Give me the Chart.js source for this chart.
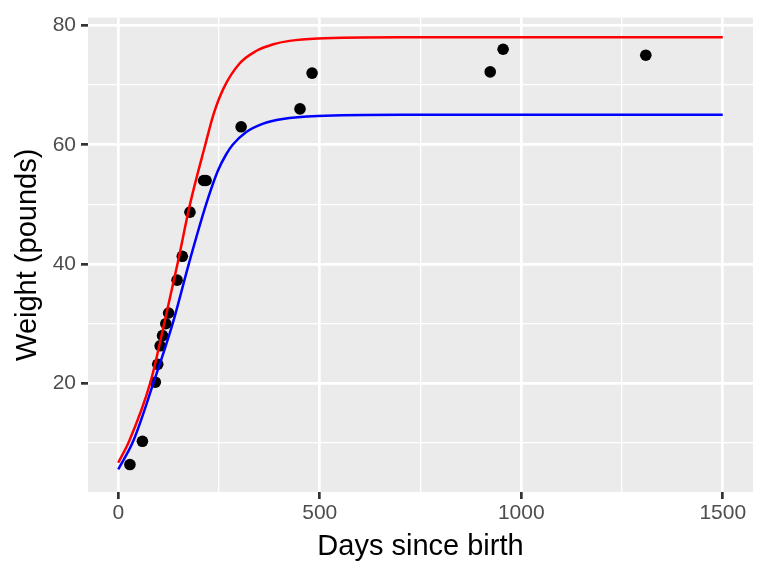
<!DOCTYPE html>
<html>
<head>
<meta charset="utf-8">
<script src="https://cdn.jsdelivr.net/npm/chart.js@4"></script>
<style>
  html, body { margin: 0; padding: 0; background: #fff; }
  #wrap { width: 768px; height: 576px; }
</style>
</head>
<body>
<div id="wrap"><canvas id="growthChart" width="768" height="576"></canvas></div>
<script>
// observed weights
const pointDays = [29, 60, 92, 98, 104, 110, 118, 125, 146, 159, 178, 212, 218, 305, 451, 481, 923, 955, 1309];
const pointWeights = [6.4, 10.3, 20.2, 23.2, 26.3, 28, 30, 31.8, 37.3, 41.3, 48.7, 54, 54, 63, 66, 72, 72.2, 76, 75];

// fitted curves
const redDays = [0, 27, 80, 114, 147, 178, 216, 237, 261, 301, 342, 383, 425, 495, 700, 1000, 1500];
const redWeights = [6.7, 10.3, 20.2, 30, 40, 50, 60, 65.2, 69.4, 73.6, 75.7, 76.8, 77.4, 77.8, 78, 78, 78];
const blueDays = [0, 37, 88, 135, 175, 218, 247, 268, 284, 317, 358, 408, 495, 700, 1000, 1500];
const blueWeights = [5.6, 10.3, 20.2, 30, 40, 50, 55.6, 58.4, 60, 62.1, 63.5, 64.3, 64.8, 65, 65, 65];

// axis ticks
const xTicks = [0, 250, 500, 750, 1000, 1250, 1500];
const xLabels = [0, 500, 1000, 1500];
const yTicks = [10, 20, 30, 40, 50, 60, 70, 80];
const yLabels = [20, 40, 60, 80];

const toXY = (xs, ys) => xs.map((x, i) => ({ x: x, y: ys[i] }));

const panelBg = {
  id: 'panelBg',
  beforeDraw(chart) {
    const a = chart.chartArea, c = chart.ctx;
    c.save();
    c.fillStyle = '#ebebeb';
    c.fillRect(a.left, a.top, a.right - a.left, a.bottom - a.top);
    c.restore();
  }
};

const isMajor = (list) => (ctx) => ctx.tick && list.includes(ctx.tick.value);
const fontFam = 'Liberation Sans, Arial, sans-serif';

new Chart(document.getElementById('growthChart'), {
  type: 'scatter',
  data: {
    datasets: [
      { type: 'line', data: toXY(redDays, redWeights), borderColor: '#ff0000', borderWidth: 2.5,
        pointRadius: 0, cubicInterpolationMode: 'monotone', fill: false, order: 0 },
      { type: 'line', data: toXY(blueDays, blueWeights), borderColor: '#0000ff', borderWidth: 2.5,
        pointRadius: 0, cubicInterpolationMode: 'monotone', fill: false, order: 1 },
      { data: toXY(pointDays, pointWeights), backgroundColor: '#000', borderWidth: 0,
        pointRadius: 5.8, order: 2 }
    ]
  },
  plugins: [panelBg],
  options: {
    responsive: false,
    animation: false,
    layout: { padding: { top: 15, right: 15, left: 0, bottom: 0 } },
    plugins: { legend: { display: false }, tooltip: { enabled: false } },
    scales: {
      x: {
        type: 'linear', min: -75, max: 1575,
        afterBuildTicks: (s) => { s.ticks = xTicks.map(v => ({ value: v })); },
        afterFit: (s) => { s.height = 84; },
        border: { display: false },
        grid: {
          color: '#ffffff',
          lineWidth: (c) => isMajor(xLabels)(c) ? 2.7 : 1.3,
          tickColor: (c) => isMajor(xLabels)(c) ? '#333333' : 'rgba(0,0,0,0)',
          tickLength: 7, tickWidth: 2.7
        },
        ticks: {
          autoSkip: false, maxRotation: 0, padding: 2, color: '#4d4d4d',
          font: { family: fontFam, size: 21 },
          callback: (v) => xLabels.includes(v) ? String(v) : ''
        },
        title: { display: true, text: 'Days since birth', color: '#000',
          font: { family: fontFam, size: 29 },
          padding: { top: 0, bottom: 11.5 } }
      },
      y: {
        type: 'linear', min: 1.8, max: 81.3,
        afterBuildTicks: (s) => { s.ticks = yTicks.map(v => ({ value: v })); },
        afterFit: (s) => { s.width = 88; },
        border: { display: false },
        grid: {
          color: '#ffffff',
          lineWidth: (c) => isMajor(yLabels)(c) ? 2.7 : 1.3,
          tickColor: (c) => isMajor(yLabels)(c) ? '#333333' : 'rgba(0,0,0,0)',
          tickLength: 7, tickWidth: 2.7
        },
        ticks: {
          autoSkip: false, padding: 5, color: '#4d4d4d',
          font: { family: fontFam, size: 21 },
          callback: (v) => yLabels.includes(v) ? String(v) : ''
        },
        title: { display: true, text: 'Weight (pounds)', color: '#000',
          font: { family: fontFam, size: 29 },
          padding: { top: 11, bottom: 0 } }
      }
    }
  }
});
</script>
</body>
</html>
